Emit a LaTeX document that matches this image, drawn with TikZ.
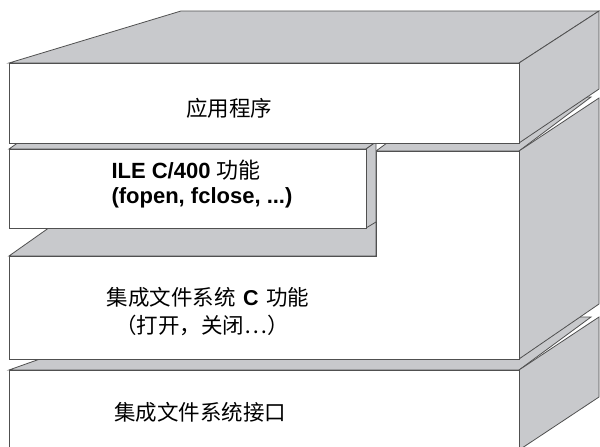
\documentclass[tikz,border=0pt]{standalone}
\usepackage{fontspec}
\setmainfont{Liberation Sans}
\newfontfamily\cjk{Noto Sans CJK SC}
\definecolor{facegray}{RGB}{200,201,204}
\definecolor{edgegray}{RGB}{80,80,80}

\begin{document}
\begin{tikzpicture}[x=1pt,y=-1pt,
    face/.style={fill=facegray,draw=edgegray,line width=0.8pt},
    front/.style={fill=white,draw=edgegray,line width=0.8pt},
    zhlabel/.style={font=\cjk\fontsize{21.5}{26}\selectfont},
    enlabel/.style={font=\bfseries\fontsize{22}{26}\selectfont,anchor=west}]
    \useasboundingbox (0,0) rectangle (600,447);
    \clip (0,0) rectangle (600,447);
    % bottom block
    \draw[face] (9,370) -- (158,317) -- (591,317) -- (519,370) -- cycle;
    \draw[face] (519,370) -- (599,317) -- (599,397) -- (519,450) -- cycle;
    \draw[front] (9,370) rectangle (519,460);
    % middle block
    \draw[face] (376,151) -- (450,97) -- (591,97) -- (519,151) -- cycle;
    \draw[face] (519,151) -- (599,98) -- (599,304) -- (519,359) -- cycle;
    \draw[face] (9,256) -- (60,220) -- (376,220) -- (376,256) -- cycle;
    \draw[front] (9,256) -- (376,256) -- (376,151) -- (519,151)
      -- (519,359) -- (9,359) -- cycle;
    % ILE block
    \draw[face] (9,149) -- (19,142) -- (376,142) -- (366,149) -- cycle;
    \draw[face] (366,149) -- (376,142) -- (376,222) -- (366,228) -- cycle;
    \draw[front] (9,149) rectangle (366,228);
    % top block
    \draw[face] (9,63) -- (181,11) -- (599,11) -- (519,63) -- cycle;
    \draw[face] (519,63) -- (599,11) -- (599,89) -- (519,143) -- cycle;
    \draw[front] (9,63) rectangle (519,143);
    % labels
    \node[zhlabel] (app) at (229,108) {应用程序};
    \node[enlabel] (ile1) at (108,170) {ILE C/400 {\cjk\mdseries 功能}};
    \node[enlabel] (ile2) at (108,198) {(fopen, fclose, ...)};
    \node[zhlabel] (ifs1) at (208,297) {集成文件系统\hspace{0.35em}{\normalfont\bfseries C}\hspace{0.35em}功能};
    \node[zhlabel] (ifs2) at (202,325) {（打开，关闭⋯）};
    \node[zhlabel] (ifs3) at (200,412) {集成文件系统接口};
\end{tikzpicture}
\end{document}
